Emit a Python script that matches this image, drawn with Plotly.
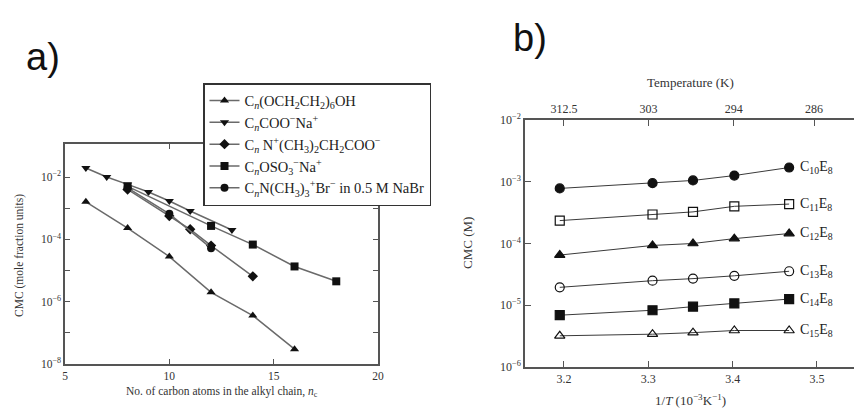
import math
import plotly.graph_objects as go

# ---------------- Panel a data ----------------
names_a = [
    "C<sub><i>n</i></sub>(OCH<sub>2</sub>CH<sub>2</sub>)<sub>6</sub>OH",
    "C<sub><i>n</i></sub>COO<sup>−</sup>Na<sup>+</sup>",
    "C<sub><i>n</i></sub> N<sup>+</sup>(CH<sub>3</sub>)<sub>2</sub>CH<sub>2</sub>COO<sup>−</sup>",
    "C<sub><i>n</i></sub>OSO<sub>3</sub><sup>−</sup>Na<sup>+</sup>",
    "C<sub><i>n</i></sub>N(CH<sub>3</sub>)<sub>3</sub><sup>+</sup>Br<sup>−</sup> in 0.5 M NaBr",
]
symbols_a = ["triangle-up", "triangle-down", "diamond", "square", "circle"]

n_peo = [6, 8, 10, 12, 14, 16]
cmc_peo = [1.6e-3, 2.3e-4, 2.8e-5, 2.0e-6, 3.6e-7, 3.0e-8]

n_coo = [6, 7, 8, 9, 10, 11, 13]
cmc_coo = [1.95e-2, 1.0e-2, 5.8e-3, 3.3e-3, 1.7e-3, 8.1e-4, 2.0e-4]

n_betaine = [8, 10, 11, 12, 14]
cmc_betaine = [4.0e-3, 5.6e-4, 2.1e-4, 6.3e-5, 6.5e-6]

n_sulfate = [8, 12, 14, 16, 18]
cmc_sulfate = [5.0e-3, 2.7e-4, 6.8e-5, 1.35e-5, 4.5e-6]

n_ammonium = [8, 10, 12]
cmc_ammonium = [4.5e-3, 6.6e-4, 5.2e-5]

x_a = [n_peo, n_coo, n_betaine, n_sulfate, n_ammonium]
y_a = [cmc_peo, cmc_coo, cmc_betaine, cmc_sulfate, cmc_ammonium]

xticks_a = [5, 10, 15, 20]
yticks_a = [1e-8, 1e-7, 1e-6, 1e-5, 1e-4, 1e-3, 1e-2]
yticktext_a = ["10<sup>−8</sup>", "", "10<sup>−6</sup>", "", "10<sup>−4</sup>", "", "10<sup>−2</sup>"]

# ---------------- Panel b data ----------------
inv_T = [3.195, 3.305, 3.353, 3.402, 3.467]
labels_b = ["C<sub>10</sub>E<sub>8</sub>", "C<sub>11</sub>E<sub>8</sub>", "C<sub>12</sub>E<sub>8</sub>",
            "C<sub>13</sub>E<sub>8</sub>", "C<sub>14</sub>E<sub>8</sub>", "C<sub>15</sub>E<sub>8</sub>"]
cmc_c10 = [7.8e-4, 9.5e-4, 1.05e-3, 1.26e-3, 1.7e-3]
cmc_c11 = [2.35e-4, 2.95e-4, 3.25e-4, 4.0e-4, 4.35e-4]
cmc_c12 = [6.5e-5, 9.3e-5, 1.0e-4, 1.2e-4, 1.45e-4]
cmc_c13 = [1.95e-5, 2.5e-5, 2.7e-5, 3.0e-5, 3.55e-5]
cmc_c14 = [6.9e-6, 8.3e-6, 9.5e-6, 1.07e-5, 1.26e-5]
cmc_c15 = [3.2e-6, 3.4e-6, 3.6e-6, 3.9e-6, 3.9e-6]
y_b = [cmc_c10, cmc_c11, cmc_c12, cmc_c13, cmc_c14, cmc_c15]
symbols_b = ["circle", "square-open", "triangle-up", "circle-open", "square", "triangle-up-open"]

xticks_b = [3.2, 3.3, 3.4, 3.5]
temps_top = [312.5, 303, 294, 286]
temps_top_text = ["312.5", "303", "294", "286"]
yticks_b = [1e-6, 1e-5, 1e-4, 1e-3, 1e-2]
yticktext_b = ["10<sup>−6</sup>", "10<sup>−5</sup>", "10<sup>−4</sup>", "10<sup>−3</sup>", "10<sup>−2</sup>"]

SERIF = "Liberation Serif"
W, H = 854, 408

def px(x):
    return x / W

def py(y):
    return 1 - y / H

fig = go.Figure()

for xs, ys, nm, sym in zip(x_a, y_a, names_a, symbols_a):
    fig.add_trace(go.Scatter(
        x=xs, y=ys, name=nm, mode="lines+markers",
        line=dict(color="#6a6a6a", width=1.5),
        marker=dict(symbol=sym, size=8, color="#111111"),
        xaxis="x", yaxis="y", showlegend=True,
    ))

for ys, sym in zip(y_b, symbols_b):
    fig.add_trace(go.Scatter(
        x=inv_T, y=ys, mode="lines+markers",
        line=dict(color="#3a3a3a", width=1),
        marker=dict(symbol=sym, size=9, color="#111111",
                    line=dict(color="#111111", width=1.2)),
        xaxis="x2", yaxis="y2", showlegend=False,
    ))

# invisible trace for top axis
fig.add_trace(go.Scatter(x=[1000 / t for t in temps_top], y=[1e-4] * 4, mode="markers",
                         marker=dict(opacity=0), xaxis="x3", yaxis="y2",
                         showlegend=False, hoverinfo="skip"))

axis_common = dict(showgrid=False, zeroline=False, showline=True, linecolor="#555555", linewidth=1.5,
                   ticks="inside", tickcolor="#555555", tickwidth=1.2, automargin=False,
                   tickfont=dict(family=SERIF, size=11.5, color="#333333"))
font_b = dict(family=SERIF, size=12, color="#333333")

fig.update_layout(
    width=W, height=H, margin=dict(l=0, r=0, t=0, b=0, autoexpand=False),
    paper_bgcolor="white", plot_bgcolor="white",
    xaxis=dict(domain=[px(65), px(378)], range=[5, 20], tickvals=xticks_a, ticklen=5,
               mirror="ticks", anchor="y", **axis_common),
    yaxis=dict(domain=[py(364), py(144)], type="log", range=[-8, -0.94], tickvals=yticks_a,
               ticktext=yticktext_a, ticklen=5, mirror="ticks", anchor="x", **axis_common),
    xaxis2=dict(domain=[px(525), 1.0], range=[3.1538, 3.5439], tickvals=xticks_b, ticklen=6,
                anchor="y2", **{**axis_common, "tickfont": font_b}),
    xaxis3=dict(overlaying="x2", side="top", range=[3.1538, 3.5439], anchor="y2",
                tickvals=[1000 / t for t in temps_top], ticktext=temps_top_text, ticklen=6,
                **{**axis_common, "tickfont": font_b}),
    yaxis2=dict(domain=[py(367), py(120)], type="log", range=[-6, -2], tickvals=yticks_b,
                ticktext=yticktext_b, ticklen=6, anchor="x2",
                **{**axis_common, "tickfont": font_b}),
    legend=dict(x=px(203), y=py(83), xanchor="left", yanchor="top",
                bgcolor="white", bordercolor="#333333", borderwidth=1.5,
                font=dict(family=SERIF, size=14.5, color="#222222"),
                tracegroupgap=0, itemwidth=30),
    showlegend=True,
)

def text_ann(text, x, y, size, family=SERIF, angle=0, color="#333333"):
    return dict(text=text, x=px(x), y=py(y), xref="paper", yref="paper", showarrow=False,
                xanchor="center", yanchor="middle", textangle=angle,
                font=dict(family=family, size=size, color=color))

ann = [
    text_ann("a)", 43, 57, 38, family="Liberation Sans", color="#111111"),
    text_ann("b)", 530, 38, 38, family="Liberation Sans", color="#111111"),
    text_ann("CMC (mole fraction units)", 19, 256, 11.5, angle=-90),
    text_ann("No. of carbon atoms in the alkyl chain, <i>n</i><sub>c</sub>", 222, 392, 11.5),
    text_ann("CMC (M)", 467, 243, 13, angle=-90),
    text_ann("1/<i>T</i> (10<sup>−3</sup>K<sup>−1</sup>)", 690, 400, 13),
    text_ann("Temperature (K)", 690, 83, 13),
]
# series labels panel b (log axes: annotation y given in log10 units)
for lab, ys in zip(labels_b, y_b):
    ann.append(dict(text=lab, x=inv_T[-1], y=math.log10(ys[-1]), xref="x2", yref="y2",
                    xanchor="left", yanchor="middle", xshift=9, showarrow=False,
                    font=dict(family=SERIF, size=14, color="#222222")))
fig.update_layout(annotations=ann)

fig.write_html("out.html", config={"displayModeBar": False},
               post_script="document.body.style.margin='0';")
